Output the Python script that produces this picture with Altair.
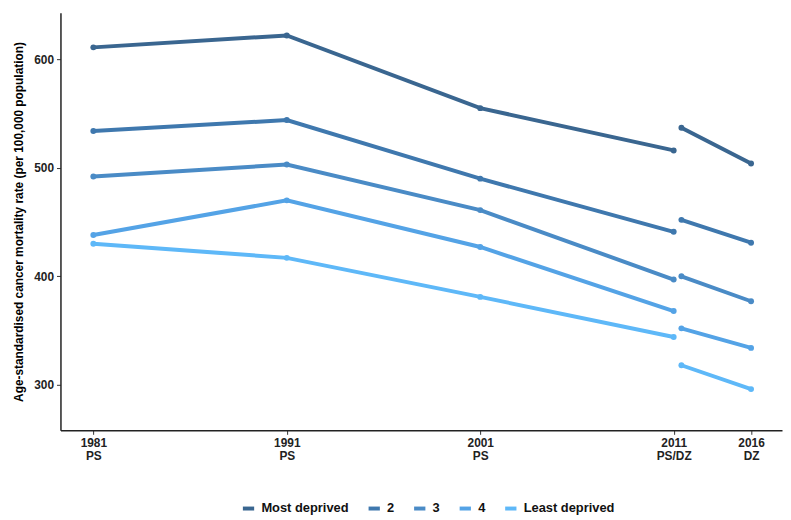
import altair as alt
import pandas as pd

series = ["Most deprived", "2", "3", "4", "Least deprived"]
colors = ["#3a6690", "#3f78ae", "#4a8bc6", "#54a3e6", "#5eb8f8"]

# Census years (PS = postcode sector, 1981-2011) and datazone years (2011-2016)
ps_years = [1981, 1991, 2001, 2011]
dz_years = [2011, 2016]

ps_values = {
    "Most deprived": [611, 622, 555, 516],
    "2": [534, 544, 490, 441],
    "3": [492, 503, 461, 397],
    "4": [438, 470, 427, 368],
    "Least deprived": [430, 417, 381, 344],
}
dz_values = {
    "Most deprived": [537, 504],
    "2": [452, 431],
    "3": [400, 377],
    "4": [352, 334],
    "Least deprived": [318, 296],
}

tick_years = [1981, 1991, 2001, 2011, 2016]
tick_sub = ["PS", "PS", "PS", "PS/DZ", "DZ"]
# horizontal placement of each year on the axis (2016 drawn closer, DZ 2011 offset)
ps_pos = {1981: 1981, 1991: 1991, 2001: 2001, 2011: 2011}
dz_pos = {2011: 2011.4, 2016: 2015}
tick_pos = [1981, 1991, 2001, 2011, 2015]

rows = []
for s in series:
    for y, v in zip(ps_years, ps_values[s]):
        rows.append({"series": s, "segment": "PS", "year": y, "x": ps_pos[y], "rate": v})
    for y, v in zip(dz_years, dz_values[s]):
        rows.append({"series": s, "segment": "DZ", "year": y, "x": dz_pos[y], "rate": v})
df = pd.DataFrame(rows)
df["grp"] = df["series"] + "_" + df["segment"]

label_expr = ""
for p, yr, sub in zip(tick_pos, tick_years, tick_sub):
    label_expr += f"datum.value == {p} ? ['{yr}', '{sub}'] : "
label_expr += "''"

font = "Liberation Sans"

x_enc = alt.X(
    "x:Q",
    scale=alt.Scale(domain=[1979.3, 2016.6], nice=False, zero=False),
    axis=alt.Axis(
        values=tick_pos, labelExpr=label_expr, title=None, grid=False,
        labelFont=font, labelFontSize=12, labelFontWeight="bold", labelColor="#222222",
        tickSize=4, tickColor="#333333", domainColor="#222222", domainWidth=1.5,
        labelPadding=3, labelLineHeight=13, labelFlush=False, labelOverlap=False,
    ),
)
y_enc = alt.Y(
    "rate:Q",
    scale=alt.Scale(domain=[258, 643], nice=False, zero=False),
    axis=alt.Axis(
        values=[300, 400, 500, 600], grid=False,
        title="Age-standardised cancer mortality rate (per 100,000 population)",
        titleFont=font, titleFontSize=12, titleFontWeight="bold",
        titleColor="#000000", titlePadding=8,
        labelFont=font, labelFontSize=12, labelFontWeight="bold", labelColor="#222222",
        tickSize=4, tickColor="#333333", domainColor="#222222", domainWidth=1.5,
        labelPadding=3,
    ),
)
color_enc = alt.Color(
    "series:N",
    scale=alt.Scale(domain=series, range=colors),
    sort=series,
    legend=alt.Legend(
        title=None, orient="none", direction="horizontal", legendX=182, legendY=493,
        symbolType="stroke", symbolStrokeWidth=4, symbolSize=130,
        labelFont=font, labelFontSize=13, labelFontWeight="bold",
        labelColor="#111111", columnPadding=11, labelOffset=5,
    ),
)

lines = alt.Chart(df).mark_line(strokeWidth=4, strokeCap="round").encode(
    x=x_enc, y=y_enc, color=color_enc, detail="grp:N", order="x:Q"
)
points = alt.Chart(df).mark_circle(size=36, opacity=1).encode(
    x="x:Q", y="rate:Q",
    color=alt.Color("series:N", scale=alt.Scale(domain=series, range=colors), legend=None),
)

chart = (
    alt.layer(lines, points)
    .properties(
        width=729, height=422,
        autosize=alt.AutoSizeParams(type="none"),
        padding={"left": 53, "top": 2, "right": 1, "bottom": 100},
        background="white",
    )
    .configure_view(stroke=None)
)

chart.save("out.html", embed_options={"renderer": "svg", "actions": False})
